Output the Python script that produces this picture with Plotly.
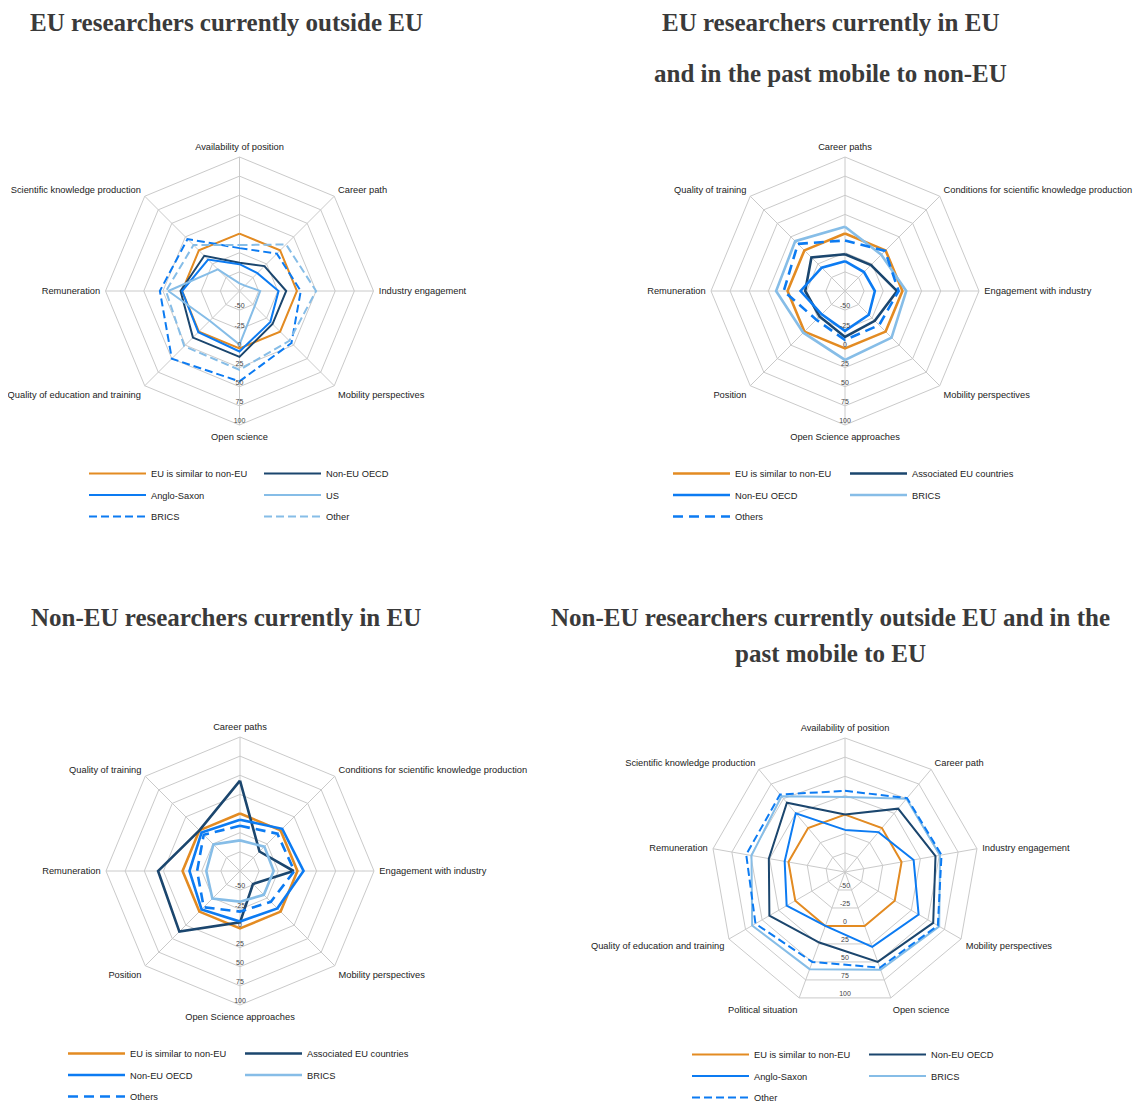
import math
import plotly.graph_objects as go

# The page body adds an 8px margin, so the figure is 8px smaller than the window
# and all layout positions below are given in page pixels, then shifted by OFF.
OFF = 8
W, H = 1141 - OFF, 1102 - OFF

# ---------------- data ----------------
radial_ticks = [-50, -25, 0, 25, 50, 75, 100]

# Chart 1: EU researchers currently outside EU
cats1 = ["Availability of position", "Career path", "Industry engagement",
         "Mobility perspectives", "Open science", "Quality of education and training",
         "Remuneration", "Scientific knowledge production"]
c1_eu_similar = [0, 0, 0, 0, 0, 0, 0, 0]
c1_non_eu_oecd = [-38, -29, -14, -14, 11, 11, 2, -10]
c1_anglo_saxon = [-40, -42, -24, -18, 4, 1, 0, -17]
c1_us = [-65, -65, -48, -47, -5, -20, 18, -35]
c1_brics = [-19, -6, 5, 21, 43, 50, 29, 21]
c1_other = [-15, 11, 25, 17, 28, 27, 21, 10]

# Chart 2: EU researchers currently in EU and in the past mobile to non-EU
cats2 = ["Career paths", "Conditions for scientific knowledge production",
         "Engagement with industry", "Mobility perspectives", "Open Science approaches",
         "Position", "Remuneration", "Quality of training"]
c2_eu_similar = [0, 0, 0, 0, 0, 0, 0, 0]
c2_associated = [-27, -27, -7, -20, -15, -28, -23, -13]
c2_non_eu_oecd = [-36, -40, -36, -31, -23, -32, -17, -32]
c2_brics = [9, -8, 5, 11, 15, 2, 15, 17]
c2_others = [-9, -1, -5, -12, -11, -22, 5, 12]

# Chart 3: Non-EU researchers currently in EU
cats3 = cats2
c3_eu_similar = [0, 0, 0, 0, 0, 0, 0, 0]
c3_associated = [43, -39, -5, -51, -8, 37, 32, 0]
c3_non_eu_oecd = [-8, 3, 8, -6, -9, -4, -9, -4]
c3_brics = [-35, -30, -31, -31, -35, -24, -31, -26]
c3_others = [-16, -6, -4, -18, -22, -8, -19, -8]

# Chart 4: Non-EU researchers currently outside EU and in the past mobile to EU
cats4 = ["Availability of position", "Career path", "Industry engagement",
         "Mobility perspectives", "Open science", "Political situation",
         "Quality of education and training", "Remuneration",
         "Scientific knowledge production"]
c4_eu_similar = [0, 0, 0, 0, 0, 0, 0, 0, 0]
c4_non_eu_oecd = [0, 33, 45, 58, 50, 23, 39, 26, 43]
c4_anglo_saxon = [-20, -7, 16, 36, 29, 0, 13, 5, 25]
c4_brics = [23, 50, 51, 67, 61, 60, 65, 49, 54]
c4_other = [31, 51, 53, 65, 58, 50, 60, 56, 57]

titles = [
    ["EU researchers currently outside EU"],
    ["EU researchers currently in EU", "and in the past mobile to non-EU"],
    ["Non-EU researchers currently in EU"],
    ["Non-EU researchers currently outside EU and in the", "past mobile to EU"],
]

# ---------------- styles ----------------
ORANGE = "#E38B22"
NAVY = "#1B466E"
BRIGHT = "#0C7BF2"
LIGHT = "#86BDE7"
GRID = "#CACACA"
LABEL_FONT = "Liberation Sans, Arial, sans-serif"

charts = [
    dict(cats=cats1, center=(239.5, 291), lw=2.0, dash="8px,4px",
         title_pos=[(226, 22)], legend_row1=473, legend_line_x=(88, 263),
         series=[("EU is similar to non-EU", c1_eu_similar, ORANGE, "solid", 0),
                 ("Non-EU OECD", c1_non_eu_oecd, NAVY, "solid", 1),
                 ("Anglo-Saxon", c1_anglo_saxon, BRIGHT, "solid", 0),
                 ("US", c1_us, LIGHT, "solid", 1),
                 ("BRICS", c1_brics, BRIGHT, "dash", 0),
                 ("Other", c1_other, LIGHT, "dash", 1)]),
    dict(cats=cats2, center=(845, 291), lw=2.6, dash="10px,6px",
         title_pos=[(830, 22), (830, 73)], legend_row1=473, legend_line_x=(672, 849),
         series=[("EU is similar to non-EU", c2_eu_similar, ORANGE, "solid", 0),
                 ("Associated EU countries", c2_associated, NAVY, "solid", 1),
                 ("Non-EU OECD", c2_non_eu_oecd, BRIGHT, "solid", 0),
                 ("BRICS", c2_brics, LIGHT, "solid", 1),
                 ("Others", c2_others, BRIGHT, "dash", 0)]),
    dict(cats=cats3, center=(240, 871), lw=2.6, dash="10px,6px",
         title_pos=[(226, 617)], legend_row1=1053, legend_line_x=(67, 244),
         series=[("EU is similar to non-EU", c3_eu_similar, ORANGE, "solid", 0),
                 ("Associated EU countries", c3_associated, NAVY, "solid", 1),
                 ("Non-EU OECD", c3_non_eu_oecd, BRIGHT, "solid", 0),
                 ("BRICS", c3_brics, LIGHT, "solid", 1),
                 ("Others", c3_others, BRIGHT, "dash", 0)]),
    dict(cats=cats4, center=(845, 872), lw=2.0, dash="8px,4px",
         title_pos=[(830, 617), (830, 653)], legend_row1=1054, legend_line_x=(691, 868),
         series=[("EU is similar to non-EU", c4_eu_similar, ORANGE, "solid", 0),
                 ("Non-EU OECD", c4_non_eu_oecd, NAVY, "solid", 1),
                 ("Anglo-Saxon", c4_anglo_saxon, BRIGHT, "solid", 0),
                 ("BRICS", c4_brics, LIGHT, "solid", 1),
                 ("Other", c4_other, BRIGHT, "dash", 0)]),
]

R = 134
fig = go.Figure()
layout = dict(width=W, height=H,
              margin=dict(l=0, r=0, t=0, b=0, autoexpand=False),
              paper_bgcolor="white", plot_bgcolor="white", showlegend=True,
              annotations=[])


def px_x(x):
    return (x - OFF) / W


def px_y(y):
    return 1 - (y - OFF) / H


def dom(cx, cy, rad):
    return dict(x=[px_x(cx - rad), px_x(cx + rad)],
                y=[px_y(cy + rad), px_y(cy - rad)])


for i, ch in enumerate(charts):
    pid = "polar" if i == 0 else f"polar{i + 1}"
    oid = f"polar{i + 5}"
    cx, cy = ch["center"]
    n = len(ch["cats"])
    lg_ids = ["legend" if i == 0 else f"legend{2 * i + 1}", f"legend{2 * i + 2}"]

    for k, (name, vals, color, dash, col) in enumerate(ch["series"]):
        d = ch["dash"] if dash == "dash" else "solid"
        fig.add_trace(go.Scatterpolar(
            r=list(vals) + [vals[0]], theta=list(ch["cats"]) + [ch["cats"][0]],
            mode="lines", name=name, subplot=pid,
            line=dict(color=color, width=ch["lw"], dash=d),
            legend=lg_ids[col], legendgroup=f"g{i}_{k}", hoverinfo="skip"))

    # radial tick labels along the downward direction
    fig.add_trace(go.Scatterpolar(
        r=radial_ticks, theta=[180] * len(radial_ticks), mode="text",
        text=[str(t) for t in radial_ticks], textposition="top center",
        textfont=dict(size=7, color="#444", family=LABEL_FONT),
        subplot=oid, showlegend=False, hoverinfo="skip", cliponaxis=False))

    # downward direction hits a polygon edge midpoint when n is odd
    scale = math.cos(math.pi / n) if n % 2 == 1 else 1.0

    layout[pid] = dict(
        domain=dom(cx, cy, R), bgcolor="rgba(0,0,0,0)", gridshape="linear",
        radialaxis=dict(range=[-75, 100], tickvals=radial_ticks, showticklabels=False,
                        showline=False, ticks="", gridcolor=GRID, gridwidth=1),
        angularaxis=dict(direction="clockwise", rotation=90, type="category",
                         categoryarray=ch["cats"], showline=True, linecolor=GRID,
                         linewidth=1, gridcolor=GRID, ticks="outside", ticklen=3,
                         tickcolor="rgba(0,0,0,0)",
                         tickfont=dict(size=9.3, color="#222", family=LABEL_FONT)))
    layout[oid] = dict(
        domain=dom(cx, cy, R * scale), bgcolor="rgba(0,0,0,0)",
        radialaxis=dict(range=[-75, 100], visible=False),
        angularaxis=dict(visible=False, type="linear", direction="clockwise",
                         rotation=90, thetaunit="degrees"))

    for j, lid in enumerate(lg_ids):
        layout[lid] = dict(
            x=px_x(ch["legend_line_x"][j] - 4), y=px_y(ch["legend_row1"] - 14),
            xanchor="left", yanchor="top", orientation="v",
            bgcolor="rgba(0,0,0,0)", itemwidth=57, traceorder="grouped",
            tracegroupgap=2.5,
            font=dict(size=9.3, color="#222", family=LABEL_FONT))

    for (tx, ty), txt in zip(ch["title_pos"], titles[i]):
        layout["annotations"].append(dict(
            text=txt, x=px_x(tx), y=px_y(ty), xref="paper", yref="paper",
            xanchor="center", yanchor="middle", showarrow=False,
            font=dict(family="Liberation Serif, Times New Roman, serif", size=25,
                      color="#3A3A3A", weight="bold")))

fig.update_layout(**layout)
fig.write_html("out.html")
